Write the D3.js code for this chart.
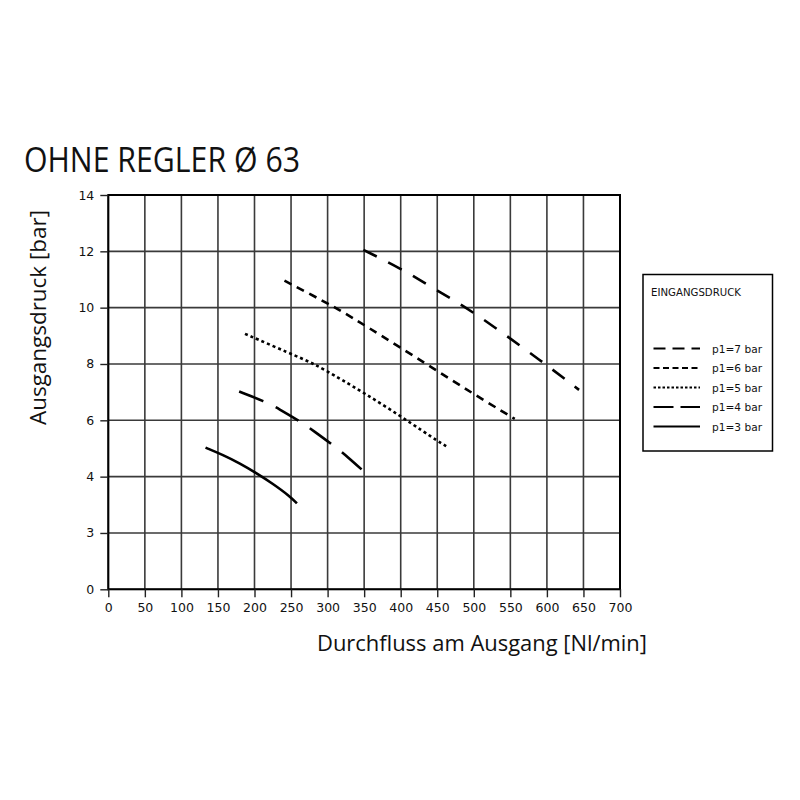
<!DOCTYPE html>
<html>
<head>
<meta charset="utf-8">
<script src="https://cdn.jsdelivr.net/npm/d3@7"></script>
<style>
  body { margin: 0; background: #fff; }
  text { fill: #111; }
</style>
</head>
<body>
<div id="chart"></div>
<script>
// tick labels as printed on the original (the "3" sits where 2 belongs)
var yTickValues = [0, 2, 4, 6, 8, 10, 12, 14];
var yTickLabels = ["0", "3", "4", "6", "8", "10", "12", "14"];
var xTickValues = [0, 50, 100, 150, 200, 250, 300, 350, 400, 450, 500, 550, 600, 650, 700];

// curves: flow [Nl/min] vs outlet pressure
var flow7 = [349, 400, 448, 498, 598, 644];
var press7 = [12.05, 11.4, 10.63, 9.89, 8.0, 7.08];
var flow6 = [241, 298, 316, 350, 437, 498, 556];
var press6 = [10.96, 10.18, 9.92, 9.39, 7.97, 6.96, 6.05];
var flow5 = [187, 248, 280, 316, 384, 448, 465];
var press5 = [9.07, 8.38, 8.03, 7.5, 6.43, 5.3, 5.04];
var flow4 = [179, 215, 232, 265, 281, 312, 327, 355];
var press4 = [7.02, 6.66, 6.43, 5.92, 5.62, 5.03, 4.71, 4.06];
var flow3 = [133, 157, 180, 203, 225, 248, 258];
var press3 = [5.03, 4.77, 4.47, 4.12, 3.75, 3.31, 3.05];

var seriesNames = ["p1=7 bar", "p1=6 bar", "p1=5 bar", "p1=4 bar", "p1=3 bar"];

var series = [
  {name: seriesNames[0], flow: flow7, press: press7, dash: "15,13", legendDash: "12,7"},
  {name: seriesNames[1], flow: flow6, press: press6, dash: "8,6", legendDash: "6,3.5"},
  {name: seriesNames[2], flow: flow5, press: press5, dash: "3,3", legendDash: "2.5,2"},
  {name: seriesNames[3], flow: flow4, press: press4, dash: "26,14", legendDash: "20,7"},
  {name: seriesNames[4], flow: flow3, press: press3, dash: null, legendDash: null}
];

var svg = d3.select("#chart")
  .append("svg")
    .attr("width", 800)
    .attr("height", 800);

var x = d3.scaleLinear().domain([0, 700]).range([108.3, 620]);
var y = d3.scaleLinear().domain([0, 14]).range([589.3, 195]);

// grid
var grid = svg.append("g");
grid.selectAll("line.v")
  .data(xTickValues)
  .enter().append("line")
    .attr("x1", function(d) { return x(d); })
    .attr("x2", function(d) { return x(d); })
    .attr("y1", y(0))
    .attr("y2", y(14))
    .attr("stroke", "#3a3a3a")
    .attr("stroke-width", 1.6);
grid.selectAll("line.h")
  .data(yTickValues)
  .enter().append("line")
    .attr("x1", x(0))
    .attr("x2", x(700))
    .attr("y1", function(d) { return y(d); })
    .attr("y2", function(d) { return y(d); })
    .attr("stroke", "#3a3a3a")
    .attr("stroke-width", 1.6);

// frame
svg.append("rect")
  .attr("x", x(0)).attr("y", y(14))
  .attr("width", x(700) - x(0)).attr("height", y(0) - y(14))
  .attr("fill", "none")
  .attr("stroke", "#000")
  .attr("stroke-width", 2);

// axes
var yAxis = d3.axisLeft(y)
  .tickValues(yTickValues)
  .tickSize(8)
  .tickPadding(5)
  .tickFormat(function(d, i) { return yTickLabels[i]; });
var xAxis = d3.axisBottom(x)
  .tickValues(xTickValues)
  .tickSize(8)
  .tickPadding(6);

var gy = svg.append("g").attr("transform", "translate(" + x(0) + ",0)").call(yAxis);
var gx = svg.append("g").attr("transform", "translate(0," + y(0) + ")").call(xAxis);
[gy, gx].forEach(function(g) {
  g.select(".domain").remove();
  g.selectAll(".tick line").attr("stroke", "#222").attr("stroke-width", 1.4);
  g.selectAll(".tick text")
    .style("font-family", "'DejaVu Sans', sans-serif")
    .style("font-size", "12.5px")
    .attr("fill", "#111");
});
gy.selectAll(".tick text").attr("dx", "-1");

// curves
var line = d3.line()
  .x(function(d) { return x(d[0]); })
  .y(function(d) { return y(d[1]); })
  .curve(d3.curveBasis);

svg.append("g").selectAll("path")
  .data(series)
  .enter().append("path")
    .attr("d", function(s) { return line(d3.zip(s.flow, s.press)); })
    .attr("fill", "none")
    .attr("stroke", "#000")
    .attr("stroke-width", 2.6)
    .attr("stroke-dasharray", function(s) { return s.dash; });

// titles
svg.append("text")
  .attr("x", 24).attr("y", 172)
  .attr("textLength", 276)
  .attr("lengthAdjust", "spacingAndGlyphs")
  .style("font-family", "'Open Sans', sans-serif")
  .style("font-size", "35px")
  .text("OHNE REGLER Ø 63");

svg.append("text")
  .attr("x", 317).attr("y", 651)
  .attr("textLength", 330)
  .attr("lengthAdjust", "spacingAndGlyphs")
  .style("font-family", "'Open Sans', sans-serif")
  .style("font-size", "22px")
  .text("Durchfluss am Ausgang [Nl/min]");

svg.append("text")
  .attr("transform", "translate(46,425) rotate(-90)")
  .attr("textLength", 215)
  .attr("lengthAdjust", "spacingAndGlyphs")
  .style("font-family", "'Open Sans', sans-serif")
  .style("font-size", "22px")
  .text("Ausgangsdruck [bar]");

// legend
var legend = svg.append("g");
legend.append("rect")
  .attr("x", 643).attr("y", 274.5)
  .attr("width", 129.5).attr("height", 176.5)
  .attr("fill", "#fff")
  .attr("stroke", "#000")
  .attr("stroke-width", 1.5);
legend.append("text")
  .attr("x", 651).attr("y", 296)
  .attr("textLength", 90)
  .attr("lengthAdjust", "spacingAndGlyphs")
  .style("font-family", "'DejaVu Sans', sans-serif")
  .style("font-size", "10.5px")
  .text("EINGANGSDRUCK");

var rows = legend.selectAll("g.row")
  .data(series)
  .enter().append("g")
    .attr("transform", function(d, i) { return "translate(0," + (348.5 + i * 19.5) + ")"; });
rows.append("line")
  .attr("x1", 653.5).attr("x2", 700)
  .attr("stroke", "#000")
  .attr("stroke-width", 1.8)
  .attr("stroke-dasharray", function(d) { return d.legendDash; });
rows.append("text")
  .attr("x", 712).attr("y", 4)
  .attr("textLength", 50)
  .attr("lengthAdjust", "spacingAndGlyphs")
  .style("font-family", "'DejaVu Sans', sans-serif")
  .style("font-size", "11px")
  .text(function(d) { return d.name; });
</script>
</body>
</html>
